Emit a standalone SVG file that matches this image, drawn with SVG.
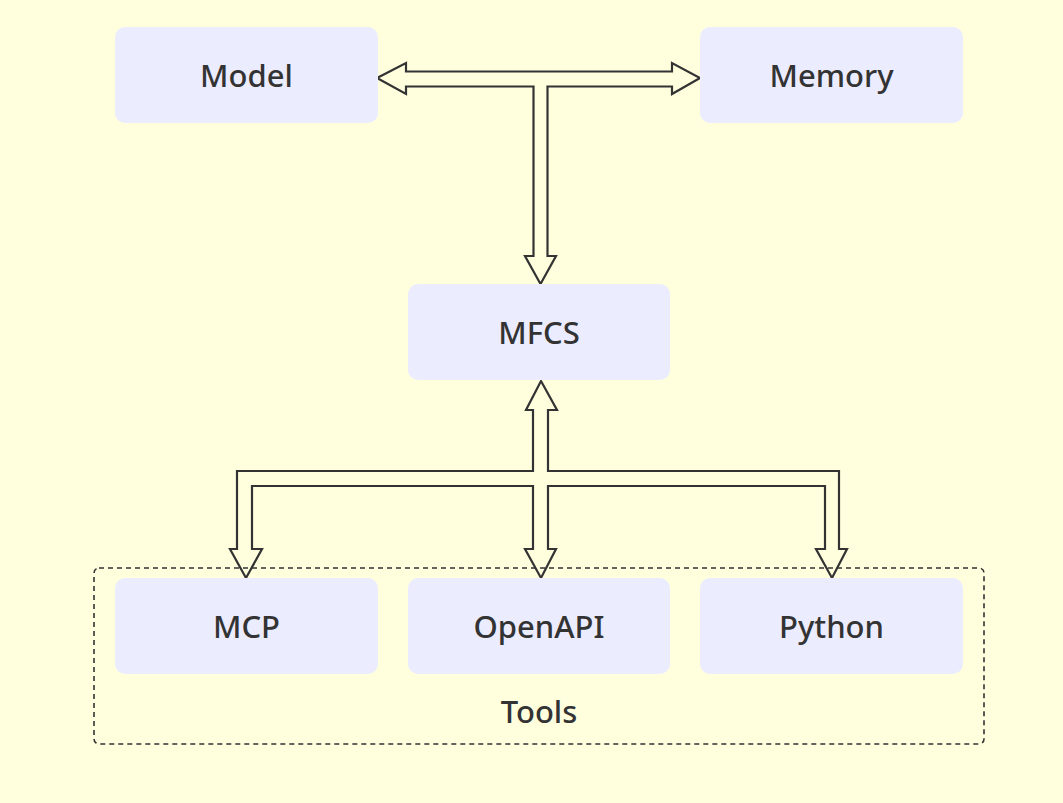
<svg xmlns="http://www.w3.org/2000/svg" width="1063" height="803" viewBox="0 0 1063 803">
<style>
.bg{fill:#FFFFDE}
.node rect{fill:#ECECFF;stroke:none}
.lbl{font-family:"Noto Sans","Liberation Sans",sans-serif;font-size:31px;font-weight:500;fill:#333;text-anchor:middle}
.conn{fill:none;stroke:#333;stroke-width:2.2;stroke-linejoin:miter}
.cluster{fill:none;stroke:#333;stroke-width:1.6;stroke-dasharray:5 4}
</style>
<rect class="bg" x="0" y="0" width="1063" height="803"/>
<g id="tools-cluster">
<rect class="cluster" x="94" y="568" width="890" height="176" rx="5"/>
<text class="lbl" x="539" y="723">Tools</text>
</g>
<g id="connectors">
<path class="conn" d="M377,78 L406,63 L406,71.5 L672,71.5 L672,63 L700,78 L672,94 L672,86.5 L547.5,86.5 L547.5,256 L556,256 L540.5,284 L525,256 L533.5,256 L533.5,86.5 L406,86.5 L406,94 Z"/>
<path class="conn" d="M541,381 L557,410 L548,410 L548,471 L839,471 L839,549 L847,549 L832,578 L816,549 L825,549 L825,486 L548,486 L548,549 L556,549 L541,578 L525,549 L533,549 L533,486 L252,486 L252,549 L262,549 L246,578 L230,549 L237,549 L237,471 L533,471 L533,410 L526,410 Z"/>
</g>
<g id="node-model" class="node">
<rect x="115" y="27" width="263" height="96" rx="10"/>
<text class="lbl" x="246.5" y="87">Model</text>
</g>
<g id="node-memory" class="node">
<rect x="700" y="27" width="263" height="96" rx="10"/>
<text class="lbl" x="831.5" y="87">Memory</text>
</g>
<g id="node-mfcs" class="node">
<rect x="408" y="284" width="262" height="96" rx="10"/>
<text class="lbl" x="539" y="344">MFCS</text>
</g>
<g id="node-mcp" class="node">
<rect x="115" y="578" width="263" height="96" rx="10"/>
<text class="lbl" x="246.5" y="638">MCP</text>
</g>
<g id="node-openapi" class="node">
<rect x="408" y="578" width="262" height="96" rx="10"/>
<text class="lbl" x="539" y="638">OpenAPI</text>
</g>
<g id="node-python" class="node">
<rect x="700" y="578" width="263" height="96" rx="10"/>
<text class="lbl" x="831.5" y="638">Python</text>
</g>
</svg>
